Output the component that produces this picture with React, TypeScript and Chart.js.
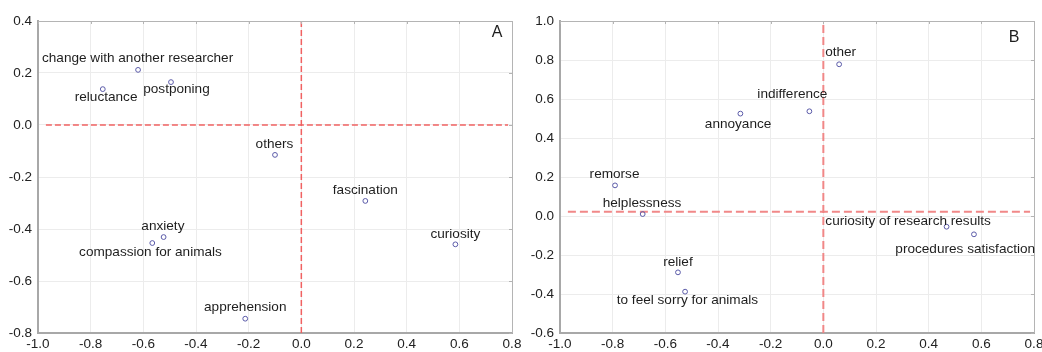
import React, { useEffect, useRef } from "react";
import { Chart, registerables } from "chart.js";

Chart.register(...registerables);

// ---- Panel A data ----
const aLabels = [
  "change with another researcher",
  "postponing",
  "reluctance",
  "others",
  "fascination",
  "curiosity",
  "anxiety",
  "compassion for animals",
  "apprehension",
];
const aX = [-0.62, -0.495, -0.754, -0.1, 0.243, 0.585, -0.523, -0.566, -0.213];
const aY = [0.212, 0.165, 0.138, -0.115, -0.292, -0.459, -0.431, -0.454, -0.745];
const aRefH = 0.0; // horizontal reference line value
const aRefV = 0.0; // vertical reference line value

// ---- Panel B data ----
const bLabels = [
  "other",
  "indifference",
  "annoyance",
  "remorse",
  "helplessness",
  "relief",
  "to feel sorry for animals",
  "curiosity of research results",
  "procedures satisfaction",
];
const bX = [0.06, -0.053, -0.315, -0.791, -0.686, -0.552, -0.525, 0.468, 0.572];
const bY = [0.778, 0.537, 0.525, 0.157, 0.01, -0.289, -0.388, -0.055, -0.094];
const bRefH = 0.022;
const bRefV = 0.0;

// reference line extent along x
const refLineXFrom = -0.97;
const refLineXTo = 0.785;

// axis ranges
const xRange = [-1.0, 0.8];
const aYRange = [-0.8, 0.4];
const bYRange = [-0.6, 1.0];

// label placement (pixel offsets of text centre from point) – styling only
const aLabelOffsets = [
  [-0.5, -12], [5.5, 7], [3.3, 8], [-0.5, -11], [0, -11], [0, -10], [-0.7, -11], [-1.8, 9.7], [0, -11.7],
];
const bLabelOffsets = [
  [1.5, -11.6], [-17, -17], [-2.3, 10.6], [-0.5, -11.3], [-0.7, -10.7], [0, -10], [2.3, 9], [-38.5, -5], [-8.7, 14.7],
];

const FONT = "'Liberation Sans', Arial, sans-serif";

function fmt(v: number) {
  if (Math.abs(v) < 1e-9) return "0.0";
  return v.toFixed(1);
}

function makeConfig(
  labels: string[], xs: number[], ys: number[], refH: number, refV: number,
  yRange: number[], offsets: number[][], panel: string, yAxisWidth: number,
  padRight: number, dash: number[], lineW: number, lineColor: string, panelPos: number[]
): any {
  const pts = xs.map((x, i) => ({ x, y: ys[i] }));
  const overlay = {
    id: "overlay" + panel,
    afterDatasetsDraw(chart: any) {
      const ctx = chart.ctx;
      const a = chart.chartArea;
      const xs2 = chart.scales.x;
      const ys2 = chart.scales.y;
      ctx.save();
      // top and right borders
      ctx.strokeStyle = "#b4b4b4";
      ctx.lineWidth = 1;
      ctx.beginPath();
      ctx.moveTo(a.left, a.top + 0.5);
      ctx.lineTo(a.right + 0.5, a.top + 0.5);
      ctx.lineTo(a.right + 0.5, a.bottom);
      ctx.stroke();
      // inward ticks on top and right
      ctx.beginPath();
      xs2.ticks.forEach((t: any) => {
        const px = Math.round(xs2.getPixelForValue(t.value)) + 0.5;
        ctx.moveTo(px, a.top);
        ctx.lineTo(px, a.top + 3);
      });
      ys2.ticks.forEach((t: any) => {
        const py = Math.round(ys2.getPixelForValue(t.value)) + 0.5;
        ctx.moveTo(a.right, py);
        ctx.lineTo(a.right - 3, py);
      });
      ctx.stroke();
      // point labels
      ctx.fillStyle = "#1e1e1e";
      ctx.font = "13.6px " + FONT;
      ctx.textAlign = "center";
      ctx.textBaseline = "middle";
      const meta = chart.getDatasetMeta(0);
      meta.data.forEach((el: any, i: number) => {
        const o = offsets[i];
        ctx.fillText(labels[i], el.x + o[0], el.y + o[1]);
      });
      // panel letter
      ctx.font = "16px " + FONT;
      ctx.fillText(panel, panelPos[0], panelPos[1]);
      ctx.restore();
    },
  };
  return {
    type: "scatter",
    data: {
      datasets: [
        {
          data: pts,
          showLine: false,
          pointStyle: "circle",
          pointRadius: 2.4,
          pointBorderWidth: 1,
          pointBorderColor: "#5a5aa8",
          pointBackgroundColor: "rgba(255,255,255,0)",
        },
        {
          data: [{ x: refLineXFrom, y: refH }, { x: refLineXTo, y: refH }],
          showLine: true,
          borderColor: lineColor,
          borderWidth: lineW,
          borderDash: dash,
          pointRadius: 0,
        },
        {
          data: [{ x: refV, y: yRange[0] }, { x: refV, y: yRange[1] }],
          showLine: true,
          borderColor: lineColor,
          borderWidth: lineW,
          borderDash: dash,
          pointRadius: 0,
        },
      ],
    },
    options: {
      animation: false,
      responsive: false,
      maintainAspectRatio: false,
      events: [],
      layout: { padding: { left: 0, top: 21, right: padRight, bottom: 0 } },
      plugins: { legend: { display: false }, tooltip: { enabled: false } },
      scales: {
        x: {
          type: "linear",
          min: xRange[0],
          max: xRange[1],
          afterFit: (s: any) => { s.height = 19; },
          ticks: {
            stepSize: 0.2,
            callback: (v: number) => fmt(v),
            color: "#222",
            font: { family: FONT, size: 13.5 },
            padding: 3,
            maxRotation: 0,
            autoSkip: false,
          },
          grid: { color: "#ececec", lineWidth: 1, drawTicks: false, tickLength: 0 },
          border: { display: true, color: "#a8a8a8", width: 2 },
        },
        y: {
          type: "linear",
          min: yRange[0],
          max: yRange[1],
          afterFit: (s: any) => { s.width = yAxisWidth; },
          ticks: {
            stepSize: 0.2,
            callback: (v: number) => fmt(v),
            color: "#222",
            font: { family: FONT, size: 13.5 },
            padding: 6,
            autoSkip: false,
          },
          grid: { color: "#ececec", lineWidth: 1, drawTicks: false, tickLength: 0 },
          border: { display: true, color: "#a8a8a8", width: 2 },
        },
      },
    },
    plugins: [overlay],
  };
}

export default function App() {
  const refA = useRef<HTMLCanvasElement>(null);
  const refB = useRef<HTMLCanvasElement>(null);
  useEffect(() => {
    const cA = new Chart(
      refA.current!,
      makeConfig(aLabels, aX, aY, aRefH, aRefV, aYRange, aLabelOffsets, "A", 38, 28,
        [6, 3], 1.5, "rgba(240,90,90,0.95)", [497, 33])
    );
    const cB = new Chart(
      refB.current!,
      makeConfig(bLabels, bX, bY, bRefH, bRefV, bYRange, bLabelOffsets, "B", 40, 26,
        [8, 4], 2, "rgba(240,130,130,0.95)", [494, 38])
    );
    return () => { cA.destroy(); cB.destroy(); };
  }, []);
  return (
    <div style={{ position: "absolute", left: 0, top: 0, width: 1042, height: 352, background: "#fff", overflow: "hidden" }}>
      <canvas ref={refA} width={540} height={352}
        style={{ position: "absolute", left: 0, top: 0, width: 540, height: 352 }} />
      <canvas ref={refB} width={540} height={352}
        style={{ position: "absolute", left: 520, top: 0, width: 540, height: 352 }} />
    </div>
  );
}
